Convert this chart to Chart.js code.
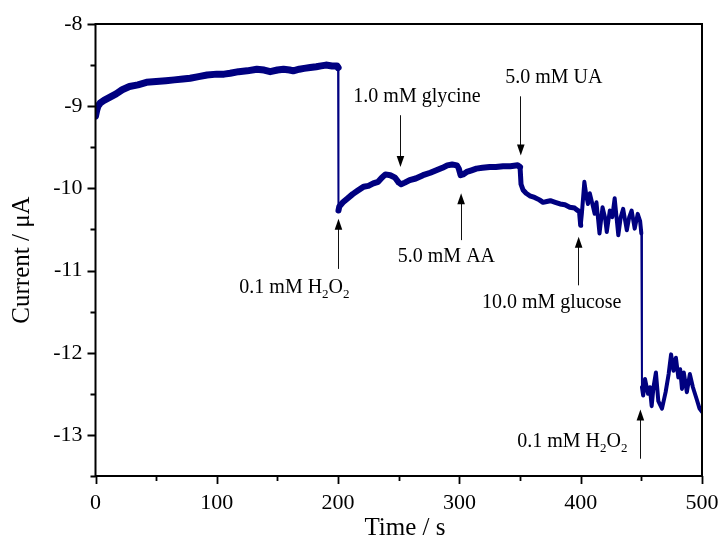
<!DOCTYPE html>
<html>
<head>
<meta charset="utf-8">
<script src="https://cdn.jsdelivr.net/npm/chart.js@4/dist/chart.umd.min.js"></script>
<style>
html,body{margin:0;padding:0;background:#fff;}
#wrap{width:721px;height:545px;}
</style>
</head>
<body>
<div id="wrap"><canvas id="c" width="721" height="545"></canvas></div>
<script>
// ---- data ----
const times = [
  0,1,2,4,7,12,17,22,28,35,42,50,58,65,72,78,85,92,100,106,111,118,125,133,139,144,150,155,160,163,168,172,177,182,186,190,195,199,200,
  200.3,201,204,208,212,216,221,225,229,233,236,239,243,247,250,252,255,259,264,270,276,281,286,290,294,298,299.5,301,303,306,310,314,319,325,330,336,342,348,350,
  350.8,352.5,355,358,362,366,369,372,375,379,383,387,391,395,397.5,399,400,401,403,405,406,407.5,409,411.5,413,415.5,418,420,421.5,424,426,428,431,433,435,438,440,442,444.5,447,449,450,
  450.5,451.5,453,455.5,457,458.5,460,462,464,467,470,472.5,474.5,476.5,478.5,480.5,482,483.5,485,487.5,490,492.5,495.5,498,500
];
const currents = [
  -9.12,-9.05,-9.00,-8.96,-8.93,-8.89,-8.85,-8.80,-8.76,-8.74,-8.71,-8.70,-8.69,-8.68,-8.67,-8.66,-8.64,-8.62,-8.61,-8.61,-8.60,-8.58,-8.57,-8.55,-8.56,-8.58,-8.56,-8.55,-8.56,-8.57,-8.55,-8.54,-8.53,-8.52,-8.51,-8.50,-8.51,-8.51,-8.53,
  -10.27,-10.22,-10.17,-10.12,-10.07,-10.03,-9.98,-9.97,-9.94,-9.92,-9.87,-9.83,-9.84,-9.87,-9.93,-9.95,-9.93,-9.90,-9.88,-9.84,-9.81,-9.78,-9.75,-9.72,-9.71,-9.72,-9.76,-9.84,-9.83,-9.80,-9.78,-9.76,-9.75,-9.74,-9.74,-9.73,-9.73,-9.72,-9.74,
  -9.95,-10.02,-10.06,-10.09,-10.11,-10.14,-10.17,-10.16,-10.15,-10.17,-10.19,-10.20,-10.23,-10.24,-10.27,-10.28,-10.45,-10.30,-9.92,-10.12,-10.19,-10.06,-10.15,-10.31,-10.17,-10.55,-10.23,-10.35,-10.53,-10.27,-10.35,-10.12,-10.57,-10.35,-10.25,-10.51,-10.35,-10.27,-10.49,-10.31,-10.40,-10.55,
  -12.42,-12.52,-12.32,-12.50,-12.42,-12.65,-12.42,-12.24,-12.59,-12.68,-12.48,-12.26,-12.02,-12.22,-12.06,-12.30,-12.20,-12.44,-12.24,-12.48,-12.26,-12.42,-12.56,-12.68,-12.72
];
const xTickValues = [0,100,200,300,400,500];
const yTickValues = [-8,-9,-10,-11,-12,-13];
const xTitle = 'Time / s';
const yTitle = 'Current / \u03bcA';

// annotation labels (text parts: [string, isSubscript])
const annotLabels = [
  {parts:[['0.1 mM H',0],['2',1],['O',0],['2',1]], tx:164,   ty:-11.21, ax:199.9, tipY:-10.37, baseY:-10.98},
  {parts:[['1.0 mM glycine',0]],                   tx:265,   ty:-8.89,  ax:251.0, tipY:-9.74,  baseY:-9.11},
  {parts:[['5.0 mM UA',0]],                        tx:377.9, ty:-8.66,  ax:350.2, tipY:-9.60,  baseY:-8.88},
  {parts:[['5.0 mM AA',0]],                        tx:289.3, ty:-10.83, ax:301.0, tipY:-10.06, baseY:-10.63},
  {parts:[['10.0 mM glucose',0]],                  tx:376.1, ty:-11.39, ax:397.9, tipY:-10.59, baseY:-11.18},
  {parts:[['0.1 mM H',0],['2',1],['O',0],['2',1]], tx:393.1, ty:-13.08, ax:448.8, tipY:-12.69, baseY:-13.29}
];

const FONT = "'Liberation Serif','Times New Roman',serif";
const points = times.map((t,i)=>({x:t, y:currents[i]}));

const framePlugin = {
  id:'frame',
  afterDraw(chart){
    const ctx = chart.ctx, a = chart.chartArea;
    const xs = chart.scales.x, ys = chart.scales.y;
    ctx.save();
    ctx.strokeStyle = '#000';
    ctx.lineWidth = 2;
    ctx.strokeRect(a.left, a.top, a.right - a.left, a.bottom - a.top);
    // ticks
    ctx.lineWidth = 1.8;
    ctx.beginPath();
    for (let v = 0; v <= 500; v += 50) {
      const px = Math.round(xs.getPixelForValue(v)) + 0.5;
      const len = (v % 100 === 0) ? 8 : 5;
      ctx.moveTo(px, a.bottom); ctx.lineTo(px, a.bottom + len);
    }
    for (let v = -13.5; v <= -8; v += 0.5) {
      const py = Math.round(ys.getPixelForValue(v)) + 0.5;
      const len = (Number.isInteger(v)) ? 8 : 5;
      ctx.moveTo(a.left, py); ctx.lineTo(a.left - len, py);
    }
    ctx.stroke();

    // axis titles
    ctx.fillStyle = '#000';
    ctx.font = '25px ' + FONT;
    ctx.textAlign = 'center';
    ctx.textBaseline = 'middle';
    ctx.fillText(xTitle, 405, 528);
    ctx.save();
    ctx.translate(22, 260);
    ctx.rotate(-Math.PI/2);
    ctx.fillText(yTitle, 0, 0);
    ctx.restore();

    // annotations
    annotLabels.forEach(l => {
      const ax = xs.getPixelForValue(l.ax);
      const tip = ys.getPixelForValue(l.tipY);
      const base = ys.getPixelForValue(l.baseY);
      const dir = tip > base ? 1 : -1;
      ctx.strokeStyle = '#111';
      ctx.lineWidth = 1;
      ctx.beginPath();
      ctx.moveTo(Math.round(ax)+0.5, base);
      ctx.lineTo(Math.round(ax)+0.5, tip - dir*9);
      ctx.stroke();
      ctx.fillStyle = '#000';
      ctx.beginPath();
      ctx.moveTo(ax+0.5, tip);
      ctx.lineTo(ax+0.5 - 3.8, tip - dir*11);
      ctx.lineTo(ax+0.5 + 3.8, tip - dir*11);
      ctx.closePath();
      ctx.fill();

      const cx = xs.getPixelForValue(l.tx), cy = ys.getPixelForValue(l.ty);
      const mainF = '20px ' + FONT, subF = '13px ' + FONT;
      let w = 0;
      l.parts.forEach(p => { ctx.font = p[1] ? subF : mainF; w += ctx.measureText(p[0]).width; });
      let x = cx - w/2;
      ctx.textBaseline = 'middle';
      ctx.textAlign = 'left';
      l.parts.forEach(p => {
        ctx.font = p[1] ? subF : mainF;
        ctx.fillText(p[0], x, p[1] ? cy + 7 : cy);
        x += ctx.measureText(p[0]).width;
      });
    });
    ctx.restore();
  }
};

new Chart(document.getElementById('c'), {
  type:'line',
  data:{ datasets:[{
    data: points,
    borderColor:'#000080',
    backgroundColor:'#000080',
    borderWidth:5,
    pointRadius:0,
    tension:0,
    borderJoinStyle:'round',
    borderCapStyle:'round',
    segment:{
      borderWidth: c => {
        if (Math.abs(c.p1.parsed.y - c.p0.parsed.y) > 1) return 2;
        const x = c.p0.parsed.x;
        if (x < 200) return 7;
        if (x < 350) return 6;
        if (x < 400) return 5;
        return 4;
      }
    }
  }]},
  options:{
    responsive:false,
    animation:false,
    events:[],
    layout:{ autoPadding:false, padding:{ left:0, top:24, right:19, bottom:0 } },
    plugins:{ legend:{display:false}, tooltip:{enabled:false} },
    scales:{
      x:{
        type:'linear', min:0, max:500,
        afterFit(s){ s.height = 69; s.paddingLeft = 0; s.paddingRight = 0; },
        afterBuildTicks(s){ s.ticks = xTickValues.map(v=>({value:v})); },
        border:{display:false},
        grid:{ display:true, drawOnChartArea:false, drawTicks:true, tickLength:8, color:'rgba(0,0,0,0)', tickColor:'rgba(0,0,0,0)' },
        ticks:{ autoSkip:false, maxRotation:0, padding:6, color:'#000', font:{family:FONT, size:22}, callback:v=>String(v) },
        title:{ display:false }
      },
      y:{
        type:'linear', min:-13.5, max:-8,
        afterFit(s){ s.width = 95.5; s.paddingTop = 0; s.paddingBottom = 0; },
        afterBuildTicks(s){ s.ticks = yTickValues.map(v=>({value:v})); },
        border:{display:false},
        grid:{ display:true, drawOnChartArea:false, drawTicks:true, tickLength:8, color:'rgba(0,0,0,0)', tickColor:'rgba(0,0,0,0)' },
        ticks:{ autoSkip:false, padding:5, color:'#000', font:{family:FONT, size:22}, callback:v=>String(v) },
        title:{ display:false }
      }
    }
  },
  plugins:[framePlugin]
});
</script>
</body>
</html>
